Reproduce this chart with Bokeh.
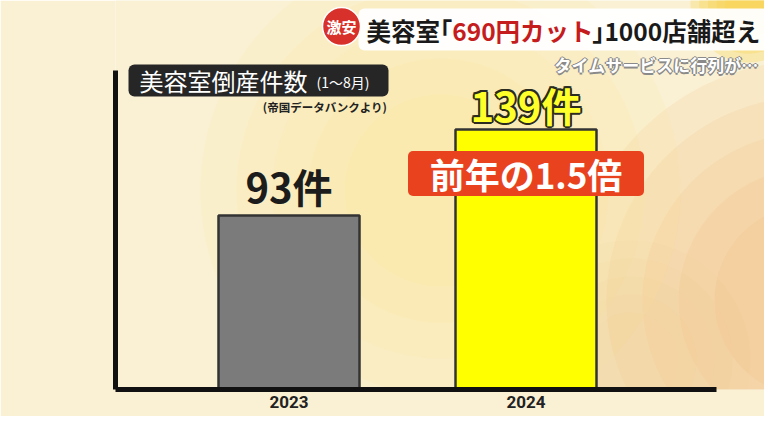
from bokeh.plotting import figure
from bokeh.models import Range1d, FixedTicker, NumeralTickFormatter, Label, ColumnDataSource
from bokeh.core.properties import value
from bokeh.embed import file_html
from bokeh.resources import INLINE

# ---------------- data ----------------
years = [2023, 2024]
counts = [93, 139]
count_labels = ["93件", "139件"]
chart_title = "美容室倒産件数"
title_period = "(1〜8月)"
source_note = "(帝国データバンクより)"
year_unit = "(年)"
headline_tag = "激安"
headline_parts = ["美容室", "「", "690円カット", "」", "1000店舗超え"]
subheadline = "タイムサービスに行列が…"

# ---------------- styles / layout ----------------
JP = "Noto Sans CJK JP"
bar_colors = ["#7b7b7b", "#ffff00"]
label_colors = ["#1c1c1c", "#ffff2a"]
label_sizes = ["40px", "40px"]
label_offsets = [-30, -25]
W, H = 764, 416
FL, FB = 115, 27           # frame left / bottom border in px
PX_YEAR = 237              # px per category step
PX_UNIT = 1.87             # px per count
FIRST_CENTER = 288.5       # px of first category centre
BG = "#faf1d4"

x0 = years[0] - (FIRST_CENTER - FL) / PX_YEAR
x1 = x0 + (W - FL) / PX_YEAR
y1 = (H - FB) / PX_UNIT


def X(px):  # canvas px -> data x
    return x0 + (px - FL) / PX_YEAR


def Y(py):  # canvas px -> data y
    return (H - FB - py) / PX_UNIT


p = figure(width=W, height=H, output_backend="svg", toolbar_location=None,
           x_range=Range1d(x0, x1), y_range=Range1d(0, y1),
           min_border_left=FL, min_border_bottom=FB, min_border_top=0, min_border_right=0)
p.background_fill_color = BG
p.border_fill_color = BG
p.outline_line_color = None
p.grid.visible = False

# ---------- soft background glows ----------
glows = [
    (810, 300, 240, "#f3b26a", 0.16),
    (440, 190, 240, "#fbe080", 0.13),
    (748, 4, 58, "#f8cf45", 0.35),
    (630, 360, 120, "#f7c98a", 0.10),
]
for gx, gy, gr, gc, ga in glows:
    for k in (1.0, 0.85, 0.7, 0.55, 0.4):
        p.circle(x=[X(gx)], y=[Y(gy)], radius=gr * k, radius_units="screen",
                 fill_color=gc, fill_alpha=ga * 0.8, line_color=None, level="image")
p.circle(x=[X(792)], y=[Y(36)], radius=26, radius_units="screen",
         fill_color="#ec6a2c", line_color=None, level="image")

# ---------- axes ----------
p.xaxis.ticker = FixedTicker(ticks=years)
p.xaxis.formatter = NumeralTickFormatter(format="0")
p.xaxis.bounds = (x0, X(716))
p.xaxis.axis_line_width = 5
p.xaxis.axis_line_color = "#111111"
p.xaxis.major_tick_line_color = None
p.xaxis.minor_tick_line_color = None
p.xaxis.major_tick_out = 0
p.xaxis.major_tick_in = 0
p.xaxis.minor_tick_out = 0
p.xaxis.major_label_text_font = "Roboto"
p.xaxis.major_label_text_font_style = "bold"
p.xaxis.major_label_text_font_size = "17px"
p.xaxis.major_label_text_color = "#222222"
p.xaxis.major_label_standoff = 6

p.yaxis.ticker = FixedTicker(ticks=[])
p.yaxis.bounds = (0, Y(70))
p.yaxis.axis_line_width = 5
p.yaxis.axis_line_color = "#111111"
p.yaxis.major_tick_line_color = None
p.yaxis.minor_tick_line_color = None
p.yaxis.major_tick_out = 0
p.yaxis.minor_tick_out = 0

# ---------- bars ----------
src = ColumnDataSource(dict(year=years, count=counts, color=bar_colors, label=count_labels,
                            lcolor=label_colors, lsize=label_sizes, loff=label_offsets))
p.vbar(x="year", top="count", bottom=0, width=141 / PX_YEAR, source=src,
       fill_color="color", line_color="#333333", line_width=2.5)

# value labels (dark outline for the highlighted year)
ol = dict(x=[], y=[], text=[], dx=[], dy=[], size=[])
for dx, dy in [(-2, 0), (2, 0), (0, -2), (0, 2), (-1.5, -1.5), (1.5, -1.5), (-1.5, 1.5), (1.5, 1.5)]:
    ol["x"].append(years[1]); ol["y"].append(counts[1]); ol["text"].append(count_labels[1])
    ol["dx"].append(dx); ol["dy"].append(dy + label_offsets[1]); ol["size"].append(label_sizes[1])
p.text(x="x", y="y", text="text", x_offset="dx", y_offset="dy", source=ColumnDataSource(ol),
       text_font=value(JP), text_font_style="bold", text_font_size="size",
       text_color="#2b2b20", text_align="center", text_baseline="middle")
p.text(x="year", y="count", text="label", y_offset="loff", source=src,
       text_font=value(JP), text_font_style="bold", text_font_size="lsize",
       text_color="lcolor", text_align="center", text_baseline="middle")

# ratio badge
ratio = counts[1] / counts[0]
badge_y = counts[1] - 44 / PX_UNIT
p.rect(x=[years[1]], y=[badge_y], width=236, height=45, width_units="screen", height_units="screen",
       fill_color="#e8421e", line_color=None, border_radius=5)
p.text(x=[years[1]], y=[badge_y], text=[f"前年の{ratio:.1f}倍"],
       text_font=value(JP), text_font_style="bold", text_font_size="35px",
       text_color="white", text_align="center", text_baseline="middle")

# ---------- chart title ----------
p.rect(x=[X(258)], y=[Y(80)], width=260, height=32, width_units="screen", height_units="screen",
       fill_color="#262626", line_color=None, border_radius=6)
p.text(x=[X(139)], y=[Y(80)], text=[chart_title], text_font=value(JP), text_font_size="24px",
       text_color="white", text_baseline="middle", text_align="left")
p.text(x=[X(316)], y=[Y(81)], text=[title_period], text_font=value(JP), text_font_size="14px",
       text_color="white", text_baseline="middle", text_align="left")
p.text(x=[X(386)], y=[Y(106)], text=[source_note], text_font=value(JP), text_font_style="bold",
       text_font_size="11.5px", text_color="#222222", text_baseline="middle", text_align="right")

# ---------- headline banner ----------
p.rect(x=[X(580)], y=[Y(29)], width=444, height=42, width_units="screen", height_units="screen",
       fill_color="white", fill_alpha=0.95, line_color=None, border_radius=6)
p.circle(x=[X(341)], y=[Y(26)], radius=19, radius_units="screen",
         fill_color="#d8302a", line_color="white", line_width=1.5)
p.text(x=[X(341)], y=[Y(26)], text=[headline_tag], text_font=value(JP), text_font_style="bold",
       text_font_size="15px", text_color="white", text_align="center", text_baseline="middle")

HF = 24.5                      # headline font size (px)
DIG = 0.57                     # digit advance (em)
hx = [366.0]
hx.append(hx[0] + 2.5 * HF)                 # 「 (ink in its right half)
hx.append(hx[1] + 1.0 * HF)                 # 690円カット
hx.append(hx[2] + (3 * DIG + 4) * HF)       # 」 (ink in its left half)
hx.append(hx[3] + 0.5 * HF)                 # 1000店舗超え
hcolors = ["#1a1a1a", "#1a1a1a", "#c51d1d", "#1a1a1a", "#1a1a1a"]
for part, px_, col in zip(headline_parts, hx, hcolors):
    p.text(x=[X(px_)], y=[Y(30)], text=[part], text_font=value(JP), text_font_style="bold",
           text_font_size=f"{HF}px", text_color=col, text_align="left", text_baseline="middle")

sub = dict(x=[], y=[], t=[], dx=[], dy=[])
for dx, dy in [(-1.5, 0), (1.5, 0), (0, -1.5), (0, 1.5)]:
    sub["x"].append(X(758)); sub["y"].append(Y(64)); sub["t"].append(subheadline)
    sub["dx"].append(dx); sub["dy"].append(dy)
p.text(x="x", y="y", text="t", x_offset="dx", y_offset="dy", source=ColumnDataSource(sub),
       text_font=value(JP), text_font_style="bold", text_font_size="17px",
       text_color="#8a8a8a", text_align="right", text_baseline="middle")
p.text(x=[X(758)], y=[Y(64)], text=[subheadline], text_font=value(JP), text_font_style="bold",
       text_font_size="17px", text_color="white", text_align="right", text_baseline="middle")

# ---------- year unit ----------
p.add_layout(Label(x=X(690), y=Y(404), text=year_unit, text_font=JP, text_font_style="bold",
                   text_font_size="15px", text_color="#222222", text_align="center",
                   text_baseline="middle"))

open("out.html", "w").write(file_html(p, INLINE))
